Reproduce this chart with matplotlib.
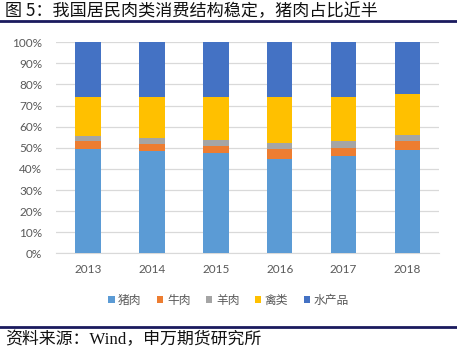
import matplotlib
matplotlib.use("Agg")
import matplotlib.pyplot as plt
import numpy as np

years = ["2013", "2014", "2015", "2016", "2017", "2018"]
series_names = ["猪肉", "牛肉", "羊肉", "禽类", "水产品"]
pork = [49.4, 48.4, 47.5, 44.8, 46.3, 49.0]
beef = [3.9, 3.6, 3.5, 4.4, 3.7, 4.3]
mutton = [2.5, 2.6, 2.8, 3.2, 3.2, 2.9]
poultry = [18.2, 19.4, 20.2, 21.6, 20.8, 19.4]
aquatic = [26.0, 26.0, 26.0, 26.0, 26.0, 24.4]
colors = ["#5B9BD5", "#ED7D31", "#A5A5A5", "#FFC000", "#4472C4"]

plt.rcParams['font.family'] = ['Lato', 'Noto Sans CJK SC', 'DejaVu Sans']

fig = plt.figure(figsize=(4.57, 3.51), dpi=100)
ax = fig.add_axes([0.1225, 0.2783, 0.8392, 0.6012])

data = [pork, beef, mutton, poultry, aquatic]
x = np.arange(len(years))
bottom = np.zeros(len(years))
handles = []
for name, vals, c in zip(series_names, data, colors):
    h = ax.bar(x, vals, bottom=bottom, width=0.4, color=c, label=name, zorder=3)
    handles.append(h)
    bottom += np.array(vals)

ax.set_xlim(-0.5, len(years) - 0.5)
ax.set_ylim(0, 100)
ax.set_yticks(np.arange(0, 101, 10))
ax.set_yticklabels([f"{v}%" for v in range(0, 101, 10)])
ax.set_xticks(x)
ax.set_xticklabels(years)
ax.yaxis.grid(True, color="#D9D9D9", linewidth=0.9, zorder=0)
for s in ["top", "right", "left"]:
    ax.spines[s].set_visible(False)
ax.spines["bottom"].set_color("#D9D9D9")
ax.tick_params(axis="both", length=0, labelsize=8.5, colors="#595959")
ax.tick_params(axis="y", pad=10)
ax.tick_params(axis="x", pad=8)

leg = fig.legend(handles=handles, labels=series_names, loc="center",
                 bbox_to_anchor=(0.5, 0.145), ncol=5, frameon=False,
                 handlelength=0.55, handleheight=0.55,
                 handletextpad=0.3, columnspacing=1.3,
                 prop={'family': ['Noto Sans CJK SC'], 'size': 8.5})
for t in leg.get_texts():
    t.set_color("#595959")

fig.text(0.012, 0.968, "图 5：我国居民肉类消费结构稳定，猪肉占比近半",
         family=['Noto Sans CJK SC'], fontsize=12.3, fontweight='medium',
         ha='left', va='center', color="#111111")
fig.add_artist(plt.Line2D([0, 1], [0.94, 0.94], color="#1A1A5E", linewidth=2,
                          transform=fig.transFigure))
fig.add_artist(plt.Line2D([0, 1], [0.068, 0.068], color="#1A1A5E", linewidth=2,
                          transform=fig.transFigure))
fig.text(0.012, 0.030, "资料来源：Wind，申万期货研究所",
         family=['Liberation Serif', 'Noto Sans CJK SC'], fontsize=12.2,
         ha='left', va='center', color="#111111")

fig.savefig("out.png", dpi=100)
